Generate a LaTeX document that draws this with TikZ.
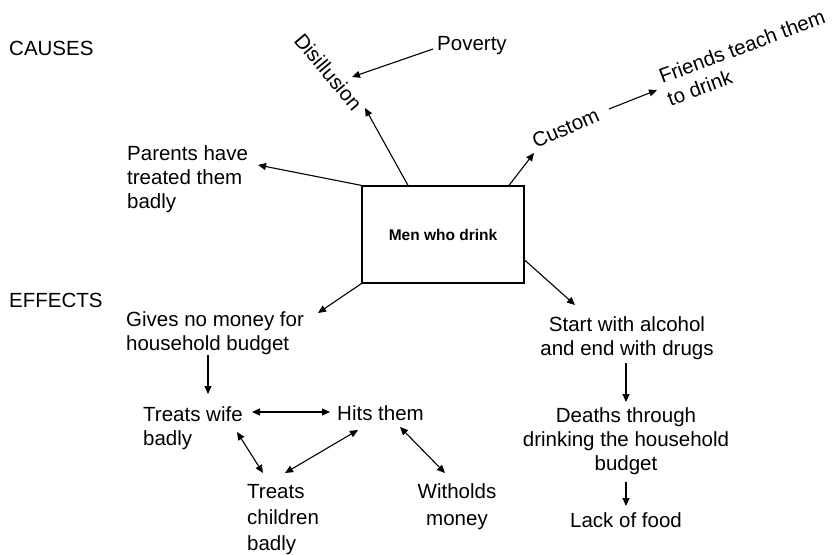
\documentclass[tikz,border=0pt]{standalone}
\usepackage{fontspec}
\setmainfont{Liberation Sans}
\usetikzlibrary{arrows.meta}
\begin{document}
\begin{tikzpicture}[x=1pt,y=-1pt,
  lbl/.style={inner sep=0pt, font=\fontsize{20.5}{24}\selectfont},
  lblL/.style={lbl, anchor=base west, align=left},
  lblC/.style={lbl, anchor=base, align=center},
  arr/.style={line width=1.1pt, -{Triangle[length=8pt,width=7pt]}},
  dbl/.style={line width=1.1pt, {Triangle[length=8pt,width=7pt]}-{Triangle[length=8pt,width=7pt]}},
  centrebox/.style={draw, line width=1.2pt, minimum width=162pt, minimum height=97pt,
    inner sep=0pt, font=\fontsize{15.5}{18}\selectfont\bfseries}]
\useasboundingbox (0,0) rectangle (835,554);

% central box
\node[centrebox] (box) at (443,234.5) {Men who drink};

% section headings
\node[lblL] (causes) at (9,55) {CAUSES};
\node[lblL] (effects) at (9,307) {EFFECTS};

% causes (multi-line labels are anchored at the baseline of their last line)
\node[lblL, rotate=-50] (dis) at (293,41) {Disillusion};
\node[lblL] (pov) at (437,50) {Poverty};
\node[lblL, rotate=24] (custom) at (536,149) {Custom};
\node[lblL, rotate=20.5] (friends) at (670.5,106.5) {Friends teach them\\to drink};
\node[lblL] (parents) at (127,208) {Parents have\\treated them\\badly};

\draw[arr] ([xshift=-35pt]box.north) -- ([shift={(72,67)}]dis.base west);
\draw[arr] ([shift={(-4,-1)}]pov.base west) -- ([shift={(59,36)}]dis.base west);
\draw[arr] ([xshift=66pt]box.north) -- ([shift={(-2,4)}]custom.base west);
\draw[arr] ([shift={(73,-40)}]custom.base west) -- ([shift={(-13.5,-16.5)}]friends.base west);
\draw[arr] (box.north west) -- ([shift={(131,-43)}]parents.base west);

% effects
\node[lblL] (gives) at (126,350) {Gives no money for\\household budget};
\node[lblL] (wife) at (143,445) {Treats wife\\badly};
\node[lblL] (hits) at (337,420) {Hits them};
\node[lbl, anchor=base west, align=left, font=\fontsize{20.5}{26}\selectfont] (children) at (247,550) {Treats\\children\\badly};
\node[lbl, anchor=base, align=center, font=\fontsize{20.5}{27}\selectfont] (witholds) at (457,525) {Witholds\\money};
\node[lblC] (start) at (627,355) {Start with alcohol\\and end with drugs};
\node[lblC] (deaths) at (626,470) {Deaths through\\drinking the household\\budget};
\node[lblC] (lack) at (626,527) {Lack of food};

\draw[arr] (box.south west) -- ([shift={(192,-37)}]gives.base west);
\draw[arr] ([shift={(82,5)}]gives.base west) -- ([shift={(65,-51)}]wife.base west);
\draw[dbl] ([shift={(109,-33)}]wife.base west) -- ([shift={(-7,-8)}]hits.base west);
\draw[dbl] ([shift={(94,-13)}]wife.base west) -- ([shift={(16,-77)}]children.base west);
\draw[dbl] ([shift={(21,10)}]hits.base west) -- ([shift={(38,-77)}]children.base west);
\draw[dbl] ([shift={(63,7)}]hits.base west) -- ([shift={(-12,-52)}]witholds.base);
\draw[arr] ([yshift=-25.5pt]box.east) -- ([shift={(-52,-50)}]start.base);
\draw[arr] ([shift={(-1,8)}]start.base) -- ([shift={(0,-68)}]deaths.base);
\draw[arr] ([shift={(0,12)}]deaths.base) -- ([shift={(0,-21)}]lack.base);
\end{tikzpicture}
\end{document}
